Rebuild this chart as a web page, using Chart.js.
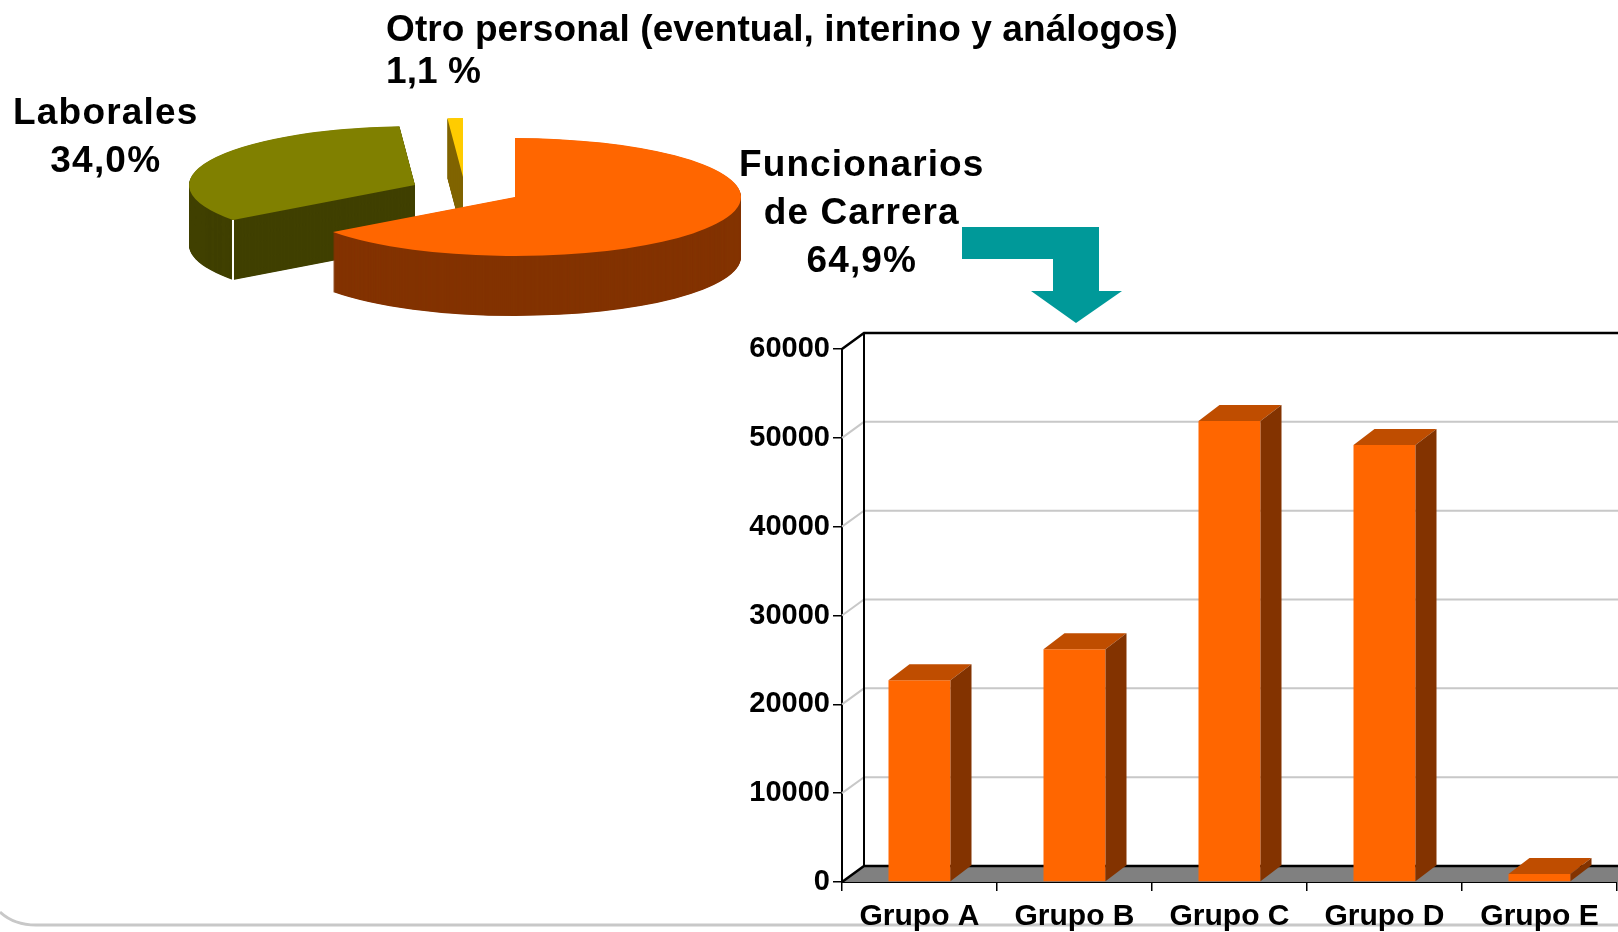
<!DOCTYPE html>
<html>
<head>
<meta charset="utf-8">
<style>
  html, body { margin: 0; padding: 0; background: #fff; overflow: hidden; }
  #page { position: relative; width: 1618px; height: 932px; overflow: hidden; }
  canvas, svg { position: absolute; left: 0; top: 0; }
  .label { position: absolute; font: bold 37px "Liberation Sans", Arial, sans-serif; color: #000; white-space: pre; }
</style>
<script src="https://cdn.jsdelivr.net/npm/chart.js@4/dist/chart.umd.min.js"></script>
</head>
<body>
<div id="page">
  <svg width="1618" height="932">
    <path d="M0 912 Q14 925 36 925 L1618 925" fill="none" stroke="#c8c8c8" stroke-width="3"/>
    <polygon points="962,227 1099,227 1099,291 1122,291 1076,323 1031,291 1053,291 1053,259 962,259" fill="#009999"/>
  </svg>
  <canvas id="pie" width="1030" height="394"></canvas>
  <canvas id="bars" width="1618" height="932"></canvas>
  <div class="label" id="lblOtro" style="left:386px;top:8px;line-height:42px;letter-spacing:.1px"></div>
  <div class="label" id="lblLab" style="left:13px;top:88px;text-align:center;line-height:48px;letter-spacing:1.2px"></div>
  <div class="label" id="lblFun" style="left:739px;top:140px;text-align:center;line-height:48px;letter-spacing:1.1px"></div>
</div>
<script>
const sliceNames = ['Funcionarios\nde Carrera', 'Laborales', 'Otro personal (eventual, interino y análogos)'];
const sliceValues = [64.9, 34.0, 1.1];
const sliceText = ['64,9%', '34,0%', '1,1 %'];
const sliceColors = ['#FF6600', '#808000', '#FFCC00'];
const sliceSides = ['#833300', '#404000', '#806600'];

const groups = ['Grupo A', 'Grupo B', 'Grupo C', 'Grupo D', 'Grupo E'];
const groupValues = [22700, 26200, 51900, 49200, 900];
const yTicks = [0, 10000, 20000, 30000, 40000, 50000, 60000];

const fontFamily = '"Liberation Sans", Arial, sans-serif';

document.getElementById('lblOtro').textContent = sliceNames[2] + '\n' + sliceText[2];
document.getElementById('lblLab').textContent = sliceNames[1] + '\n' + sliceText[1];
document.getElementById('lblFun').textContent = sliceNames[0] + '\n' + sliceText[0];

// --- pie: flat arcs squashed into an ellipse, the depth swept below them ---
const PIE_R = 226, PIE_SQUASH = 59 / 226, PIE_DEPTH = 60;
const PIE_SHIFT = [[0, 0], [-100, -12], [-52, -20]];   // exploded slices, in page px

const tiltPlugin = {
  id: 'tilt',
  afterDatasetsUpdate(chart) {
    chart.getDatasetMeta(0).data.forEach((arc, i) => {
      arc.x += PIE_SHIFT[i][0];
      arc.y += PIE_SHIFT[i][1] / PIE_SQUASH;
    });
  },
  beforeDatasetsDraw(chart) {
    const ctx = chart.ctx;
    const cy = (chart.chartArea.top + chart.chartArea.bottom) / 2;
    ctx.save();
    ctx.translate(0, cy);
    ctx.scale(1, PIE_SQUASH);
    ctx.translate(0, -cy);
    const arcs = chart.getDatasetMeta(0).data;
    for (const i of [2, 1, 0]) {
      const a = arcs[i];
      ctx.fillStyle = sliceSides[i];
      for (let d = PIE_DEPTH; d > 0; d -= 0.5) {
        ctx.beginPath();
        ctx.moveTo(a.x, a.y + d / PIE_SQUASH);
        ctx.arc(a.x, a.y + d / PIE_SQUASH, a.outerRadius, a.startAngle, a.endAngle);
        ctx.closePath();
        ctx.fill();
      }
    }
    // light seam on the outer corner of the Laborales block
    const lab = arcs[1];
    const sx = lab.x + lab.outerRadius * Math.cos(lab.startAngle);
    const sy = lab.y + lab.outerRadius * Math.sin(lab.startAngle);
    ctx.strokeStyle = '#fff';
    ctx.lineWidth = 2;
    ctx.beginPath();
    ctx.moveTo(sx, sy);
    ctx.lineTo(sx, sy + PIE_DEPTH / PIE_SQUASH);
    ctx.stroke();
  },
  afterDatasetsDraw(chart) {
    chart.ctx.restore();
  },
};

new Chart(document.getElementById('pie'), {
  type: 'pie',
  data: {
    labels: sliceNames,
    datasets: [{ data: sliceValues, backgroundColor: sliceColors, borderWidth: 0, clip: false }],
  },
  options: {
    responsive: false,
    animation: false,
    radius: PIE_R,
    plugins: { legend: { display: false }, tooltip: { enabled: false } },
  },
  plugins: [tiltPlugin],
});

// --- bars: normal bar chart, walls and 3D faces added around the library's scales ---
const DX = 22, DY = 16, BAR_DX = 21;

const box3dPlugin = {
  id: 'box3d',
  beforeDatasetsDraw(chart) {
    const ctx = chart.ctx, y = chart.scales.y;
    const { left, right, bottom } = chart.chartArea;
    ctx.save();
    ctx.fillStyle = '#808080';
    ctx.beginPath();
    ctx.moveTo(left, bottom);
    ctx.lineTo(left + DX, bottom - DY);
    ctx.lineTo(right + DX, bottom - DY);
    ctx.lineTo(right, bottom);
    ctx.closePath();
    ctx.fill();
    yTicks.forEach(v => {
      const py = y.getPixelForValue(v);
      const edge = v === 0 || v === 60000;
      ctx.strokeStyle = edge ? '#000' : '#c8c8c8';
      ctx.lineWidth = edge ? 2.5 : 2;
      ctx.beginPath();
      ctx.moveTo(left, py);
      ctx.lineTo(left + DX, py - DY);
      ctx.lineTo(right + DX, py - DY);
      ctx.stroke();
    });
    ctx.strokeStyle = '#000';
    ctx.lineWidth = 2;
    ctx.beginPath();
    ctx.moveTo(left + DX, y.getPixelForValue(60000) - DY);
    ctx.lineTo(left + DX, bottom - DY);
    ctx.stroke();
    ctx.restore();
  },
  afterDatasetsDraw(chart) {
    const ctx = chart.ctx;
    ctx.save();
    chart.getDatasetMeta(0).data.forEach(bar => {
      const l = bar.x - bar.width / 2, r = bar.x + bar.width / 2;
      ctx.fillStyle = '#BF4D00';
      ctx.beginPath();
      ctx.moveTo(l, bar.y);
      ctx.lineTo(l + BAR_DX, bar.y - DY);
      ctx.lineTo(r + BAR_DX, bar.y - DY);
      ctx.lineTo(r, bar.y);
      ctx.closePath();
      ctx.fill();
      ctx.fillStyle = '#833300';
      ctx.beginPath();
      ctx.moveTo(r, bar.y);
      ctx.lineTo(r + BAR_DX, bar.y - DY);
      ctx.lineTo(r + BAR_DX, bar.base - DY);
      ctx.lineTo(r, bar.base);
      ctx.closePath();
      ctx.fill();
    });
    ctx.restore();
  },
};

new Chart(document.getElementById('bars'), {
  type: 'bar',
  data: {
    labels: groups,
    datasets: [{
      data: groupValues,
      backgroundColor: '#FF6600',
      borderWidth: 0,
      barPercentage: 0.4,
      categoryPercentage: 1,
    }],
  },
  options: {
    responsive: false,
    animation: false,
    layout: { padding: { top: 349, right: 1 } },
    plugins: { legend: { display: false }, tooltip: { enabled: false } },
    scales: {
      x: {
        afterFit: s => { s.height = 50; },
        border: { color: '#000', width: 2 },
        grid: { drawOnChartArea: false, color: '#000', lineWidth: 1.5, tickLength: 9 },
        ticks: { color: '#000', font: { family: fontFamily, size: 30, weight: 'bold' }, padding: 8, maxRotation: 0, autoSkip: false },
      },
      y: {
        min: 0,
        max: 60000,
        afterFit: s => { s.width = 842; },
        afterBuildTicks: s => { s.ticks = yTicks.map(value => ({ value })); },
        border: { color: '#000', width: 2 },
        grid: { drawOnChartArea: false, color: '#000', lineWidth: 1.5, tickLength: 9 },
        ticks: { color: '#000', font: { family: fontFamily, size: 29, weight: 'bold' }, padding: 3, callback: v => String(v) },
      },
    },
  },
  plugins: [box3dPlugin],
});
</script>
</body>
</html>
